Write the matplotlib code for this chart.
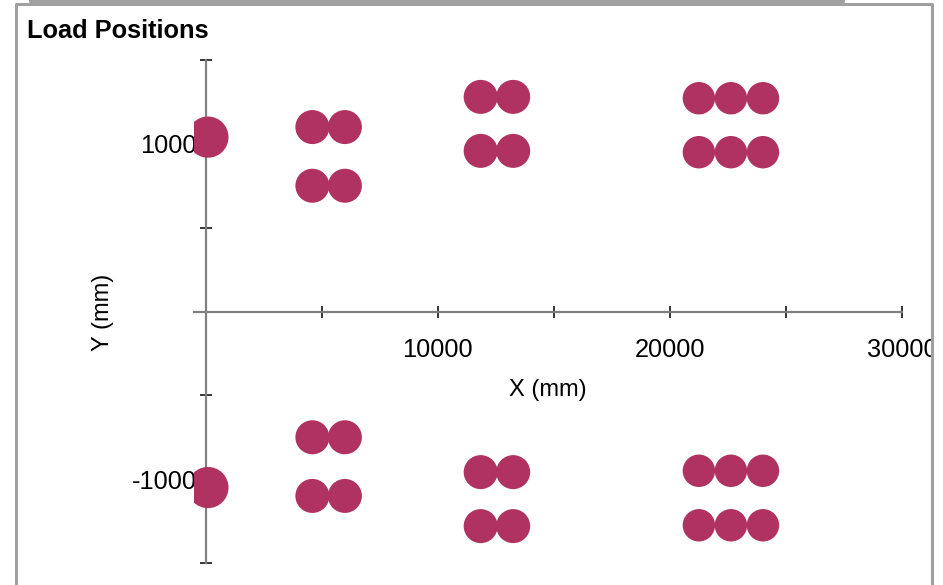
import matplotlib
matplotlib.use("Agg")
import matplotlib.pyplot as plt
from matplotlib.lines import Line2D
from matplotlib.patches import Rectangle

# Wheel load positions (mm), grouped by axle set
front_x = [100]
front_y = [1040, -1050]

tandem1_x = [4600, 6000]
tandem1_y = [1100, 750, -750, -1100]

tandem2_x = [11850, 13250]
tandem2_y = [1280, 958, -958, -1280]

tridem_x = [21250, 22630, 24010]
tridem_y = [1272, 950, -950, -1275]

x_ticks = [0, 5000, 10000, 15000, 20000, 25000, 30000]
x_labels = ["", "", "10000", "", "20000", "", "30000"]
y_ticks = [-1500, -1000, -500, 0, 500, 1000, 1500]
y_labels = ["", "-1000", "", "", "", "1000", ""]

W, H, DPI = 943, 585, 100
fig = plt.figure(figsize=(W / DPI, H / DPI), dpi=DPI)
fig.patch.set_facecolor("white")

plt.rcParams["font.family"] = ["Liberation Sans", "DejaVu Sans"]

# axes placed in pixel terms
ax_l, ax_r = 194, 902
ax_top, ax_bot = 60, 563
ax = fig.add_axes([ax_l / W, 1 - ax_bot / H, (ax_r - ax_l) / W, (ax_bot - ax_top) / H])
ax.set_facecolor("none")

color = "#B03260"
groups = [
    (front_x, front_y, 880),
    (tandem1_x, tandem1_y, 600),
    (tandem2_x, tandem2_y, 600),
    (tridem_x, tridem_y, 545),
]
for gx, gy, size in groups:
    px = [x for y in gy for x in gx]
    py = [y for y in gy for x in gx]
    ax.scatter(px, py, s=size, color=color, edgecolors="none", zorder=3, clip_on=True)

ax.set_xlim(-500, 30000)
ax.set_ylim(-1500, 1500)

for side in ("top", "right"):
    ax.spines[side].set_visible(False)
ax.spines["left"].set_position(("data", 0))
ax.spines["bottom"].set_position(("data", 0))
for side in ("left", "bottom"):
    ax.spines[side].set_color("#808080")
    ax.spines[side].set_linewidth(1.6)

ax.set_xticks(x_ticks)
ax.set_xticklabels(x_labels)
ax.set_yticks(y_ticks)
ax.set_yticklabels(y_labels)
ax.tick_params(axis="both", direction="inout", length=8, width=1.1, color="black",
               labelsize=18.3, labelcolor="black")
ax.tick_params(axis="x", pad=15)
ax.tick_params(axis="y", pad=2.5)

ax.set_xlabel("X (mm)", fontsize=17)
ax.xaxis.label.set_va("center")
ax.xaxis.set_label_coords(0.5, ((H - 390) - (H - ax_bot)) / (ax_bot - ax_top))
ax.set_ylabel("Y (mm)", fontsize=17)
ax.yaxis.label.set_va("center")
ax.yaxis.set_label_coords((103 - ax_l) / (ax_r - ax_l), ((H - 312) - (H - ax_bot)) / (ax_bot - ax_top))

fig.text(27 / W, 1 - 38.5 / H, "Load Positions", fontsize=18.3, fontweight="bold",
         ha="left", va="baseline")

# chart frame
def fx(p):
    return p / W

def fy(p):
    return 1 - p / H

fig.add_artist(Rectangle((fx(932), 0), 1 - fx(932), 1, transform=fig.transFigure,
                         facecolor="white", edgecolor="none", zorder=10))
frame = dict(color="#a0a0a0", linewidth=2.2, transform=fig.transFigure, zorder=11)
fig.add_artist(Line2D([fx(16), fx(16), fx(931.5), fx(931.5)], [0, fy(4), fy(4), 0], **frame))
fig.add_artist(Line2D([fx(30), fx(30), fx(843), fx(843)], [1, fy(1), fy(1), 1], **frame))

fig.savefig("out.png", dpi=DPI)
